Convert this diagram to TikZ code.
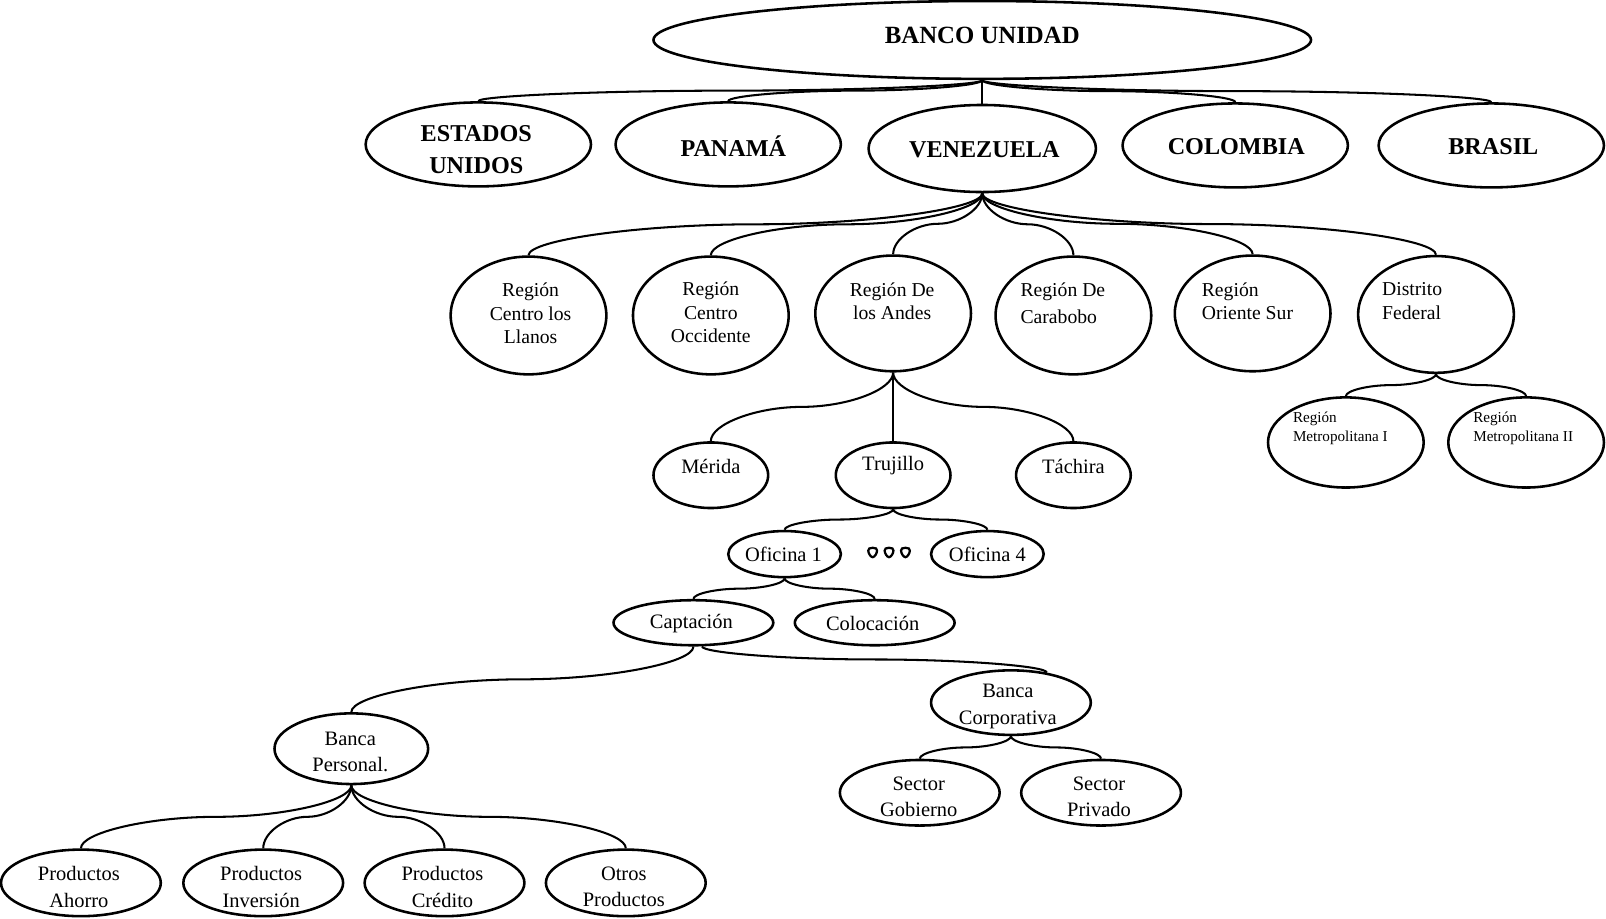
\documentclass[tikz,border=0pt]{standalone}
\usepackage{fontspec}
\setmainfont{Liberation Serif}
\usetikzlibrary{shapes.geometric,calc}
\begin{document}
\begin{tikzpicture}[x=0.5pt,y=-0.5pt,
  box/.style={ellipse,draw,line width=1.25pt,inner sep=0pt},
  lnk/.style={line width=1pt},
  % curved elbow connector: leaves vertically, flat in the middle, enters vertically
  curvy/.style={to path={let \p1=(\tikztostart),\p2=(\tikztotarget) in
    .. controls (\x1,{\y1+(\y2-\y1)/4}) and ({\x1+(\x2-\x1)/4},{(\y1+\y2)/2})
    .. ({(\x1+\x2)/2},{(\y1+\y2)/2})
    .. controls ({\x1+3*(\x2-\x1)/4},{(\y1+\y2)/2}) and (\x2,{\y1+3*(\y2-\y1)/4})
    .. (\x2,\y2)}},
  big/.style={font=\fontsize{11.8pt}{15.5pt}\selectfont\bfseries,align=center,inner sep=0pt},
  reg/.style={font=\fontsize{9.6pt}{11.5pt}\selectfont,inner sep=0pt},
  txt/.style={font=\fontsize{10pt}{13pt}\selectfont,align=center,inner sep=0pt},
  sml/.style={font=\fontsize{7.4pt}{9pt}\selectfont,align=left,anchor=west,inner sep=0pt},
  dot/.style={line width=1.1pt}
]
\useasboundingbox (0,0) rectangle (1568,897);

% top level
\node[box,minimum width=321pt,minimum height=38pt] (bu) at (959,39) {};
\node[big,font=\fontsize{12.1pt}{15pt}\selectfont\bfseries] (tbu) at (959,35) {BANCO UNIDAD};

% countries
\node[box,minimum width=110pt,minimum height=41pt] (es) at (467,141) {};
\node[box,minimum width=110pt,minimum height=41pt] (pa) at (711,141) {};
\node[box,minimum width=111pt,minimum height=42.5pt] (ve) at (959,145) {};
\node[box,minimum width=110pt,minimum height=41pt] (co) at (1206,142) {};
\node[box,minimum width=110pt,minimum height=41pt] (br) at (1456,142) {};
\node[big] (tes) at (465,146) {ESTADOS\\UNIDOS};
\node[big] (tpa) at (716,143) {PANAMÁ};
\node[big] (tve) at (961,146) {VENEZUELA};
\node[big] (tco) at (1207,143) {COLOMBIA};
\node[big] (tbr) at (1458,143) {BRASIL};

% regions of Venezuela
\node[box,minimum width=76pt,minimum height=57.5pt] (ll) at (516,308) {};
\node[box,minimum width=76pt,minimum height=57.5pt] (oc) at (694,308) {};
\node[box,minimum width=76pt,minimum height=56.5pt] (an) at (872,306) {};
\node[box,minimum width=76pt,minimum height=57.5pt] (ca) at (1048,308) {};
\node[box,minimum width=76pt,minimum height=56.5pt] (os) at (1223,306) {};
\node[box,minimum width=76pt,minimum height=57pt] (df) at (1402,307) {};
\node[reg,align=center] (tll) at (518,306) {Región\\Centro los\\Llanos};
\node[reg,align=center] (toc) at (694,305) {Región\\Centro\\Occidente};
\node[reg,align=center] (tan) at (871,294) {Región De\\los Andes};
\node[reg,align=left,anchor=west,font=\fontsize{9.6pt}{13pt}\selectfont] (tca) at (996,296) {Región De\\Carabobo};
\node[reg,align=left,anchor=west] (tos) at (1173,294) {Región\\Oriente Sur};
\node[reg,align=left,anchor=west] (tdf) at (1349,294) {Distrito\\Federal};

% Distrito Federal
\node[box,minimum width=76pt,minimum height=44pt] (m1) at (1314,432) {};
\node[box,minimum width=76pt,minimum height=44pt] (m2) at (1490,432) {};
\node[sml] (tm1) at (1262,418) {Región\\Metropolitana I};
\node[sml] (tm2) at (1438,418) {Región\\Metropolitana II};

% Región De los Andes
\node[box,minimum width=56pt,minimum height=32pt] (me) at (694,464) {};
\node[box,minimum width=56pt,minimum height=32pt] (tr) at (872,464) {};
\node[box,minimum width=56pt,minimum height=32pt] (ta) at (1048,464) {};
\node[txt] (tme) at (694,455) {Mérida};
\node[txt] (ttr) at (872,455) {Trujillo};
\node[txt] (tta) at (1048,455) {Táchira};

% offices
\node[box,minimum width=55pt,minimum height=22.5pt] (o1) at (766,541) {};
\node[box,minimum width=55pt,minimum height=22.5pt] (o4) at (964,541) {};
\node[txt] (to1) at (765,541) {Oficina 1};
\node[txt] (to4) at (964,541) {Oficina 4};
% the three "more offices" marks
\foreach \cx in {852,868,884}
  \draw[dot] (\cx,534.8)
    .. controls ({\cx+3},534.8) and ({\cx+4.3},535.8) .. ({\cx+4.3},537.5)
    .. controls ({\cx+4.3},540) and ({\cx+2},544) .. (\cx,544)
    .. controls ({\cx-2},544) and ({\cx-4.3},540) .. ({\cx-4.3},537.5)
    .. controls ({\cx-4.3},535.8) and ({\cx-3},534.8) .. cycle;

% office activities
\node[box,minimum width=78pt,minimum height=22pt] (cp) at (677,608) {};
\node[box,minimum width=78pt,minimum height=22pt] (cl) at (854,608) {};
\node[txt] (tcp) at (675,609) {Captación};
\node[txt] (tcl) at (852,609) {Colocación};

% banking segments
\node[box,minimum width=75pt,minimum height=34.5pt] (bp) at (343,731) {};
\node[box,minimum width=78pt,minimum height=31.5pt] (bc) at (987,686) {};
\node[txt] (tbp) at (342,734) {Banca\\Personal.};
\node[txt] (tbc) at (984,690) {Banca\\Corporativa};

% sectors
\node[box,minimum width=78pt,minimum height=32pt] (sg) at (898,774) {};
\node[box,minimum width=78pt,minimum height=32pt] (sp) at (1075,774) {};
\node[txt] (tsg) at (897,778) {Sector\\Gobierno};
\node[txt] (tsp) at (1073,778) {Sector\\Privado};

% products
\node[box,minimum width=78pt,minimum height=32.5pt] (p1) at (79,862) {};
\node[box,minimum width=78pt,minimum height=32.5pt] (p2) at (257,862) {};
\node[box,minimum width=78pt,minimum height=32.5pt] (p3) at (434,862) {};
\node[box,minimum width=78pt,minimum height=32.5pt] (p4) at (611,862) {};
\node[txt] (tp1) at (77,866) {Productos\\Ahorro};
\node[txt] (tp2) at (255,866) {Productos\\Inversión};
\node[txt] (tp3) at (432,866) {Productos\\Crédito};
\node[txt] (tp4) at (609,866) {Otros\\Productos};

% connectors
\foreach \c in {es,pa,ve,co,br} \draw[lnk,curvy] (bu.south) to (\c.north);
\foreach \c in {ll,oc,an,ca,os,df} \draw[lnk,curvy] (ve.south) to (\c.north);
\foreach \c in {m1,m2} \draw[lnk,curvy] (df.south) to (\c.north);
\foreach \c in {me,tr,ta} \draw[lnk,curvy] (an.south) to (\c.north);
\foreach \c in {o1,o4} \draw[lnk,curvy] (tr.south) to (\c.north);
\foreach \c in {cp,cl} \draw[lnk,curvy] (o1.south) to (\c.north);
\draw[lnk,curvy] (cp.south) to (bp.north);
\draw[lnk,curvy] (cp.-70) to (bc.40);
\foreach \c in {sg,sp} \draw[lnk,curvy] (bc.south) to (\c.north);
\foreach \c in {p1,p2,p3,p4} \draw[lnk,curvy] (bp.south) to (\c.north);
\end{tikzpicture}
\end{document}
